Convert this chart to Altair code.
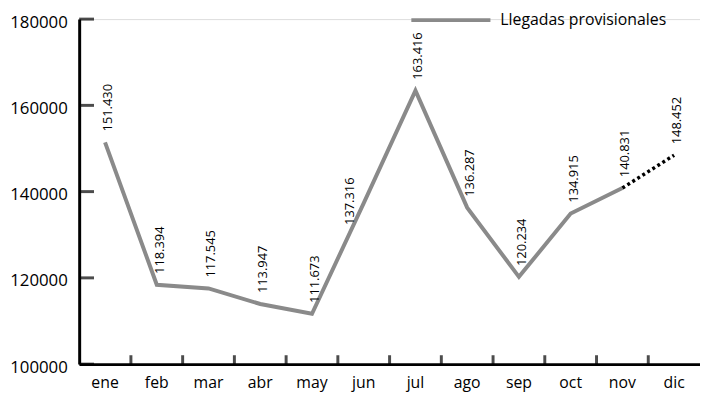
import altair as alt
import pandas as pd

meses = ["ene", "feb", "mar", "abr", "may", "jun", "jul", "ago", "sep", "oct", "nov", "dic"]
llegadas = [151430, 118394, 117545, 113947, 111673, 137316, 163416, 136287, 120234, 134915, 140831, 148452]
etiquetas = ["151.430", "118.394", "117.545", "113.947", "111.673", "137.316", "163.416",
             "136.287", "120.234", "134.915", "140.831", "148.452"]
y_ticks = [100000, 120000, 140000, 160000, 180000]
serie = "Llegadas provisionales"

df = pd.DataFrame({"mes": meses, "valor": llegadas, "etiqueta": etiquetas})
df["serie"] = serie
df_solid = df[df["mes"] != "dic"]
df_dot = df[df["mes"].isin(["nov", "dic"])]
df_ticks = pd.DataFrame({"v": y_ticks})

W, H = 628, 349
FONT = "Open Sans"

xscale = alt.Scale(domain=meses, paddingInner=0, paddingOuter=0)
yscale = alt.Scale(domain=[100000, 180000], nice=False)

x_enc = alt.X("mes:N", scale=xscale, sort=meses, title=None,
              axis=alt.Axis(labelAngle=0, ticks=False, grid=False, domainColor="black",
                            domainWidth=3, labelFontSize=16, labelFont=FONT,
                            labelColor="black", labelPadding=11))
y_enc = alt.Y("valor:Q", scale=yscale, title=None,
              axis=alt.Axis(values=y_ticks, ticks=False, grid=False, domainColor="black",
                            domainWidth=3, labelFontSize=17, labelFont=FONT,
                            labelColor="black", labelPadding=12, labelOffset=3, format="d"))

line = alt.Chart(df_solid).mark_line(strokeWidth=4, strokeJoin="miter").encode(
    x=x_enc, y=y_enc,
    color=alt.Color("serie:N", scale=alt.Scale(domain=[serie], range=["#8a8a8a"]),
                    legend=alt.Legend(title=None, orient="none", legendX=334, legendY=-41,
                                      symbolType="stroke", symbolSize=6400,
                                      symbolStrokeWidth=4, labelFontSize=16, labelLimit=0,
                                      labelFont=FONT, labelColor="black", labelOffset=8)),
)

dotted = alt.Chart(df_dot).mark_line(strokeWidth=3.5, strokeDash=[3, 3], color="black").encode(
    x=alt.X("mes:N", scale=xscale, sort=meses), y=alt.Y("valor:Q", scale=yscale)
)

labels = alt.Chart(df).transform_filter(alt.datum.mes != "jun").mark_text(
    angle=270, align="left", baseline="middle", dx=11, dy=3, fontSize=13, font=FONT, color="black"
).encode(x=alt.X("mes:N", scale=xscale, sort=meses), y=alt.Y("valor:Q", scale=yscale),
         text="etiqueta:N")

labels_jun = alt.Chart(df).transform_filter(alt.datum.mes == "jun").mark_text(
    angle=270, align="left", baseline="middle", dx=-22, dy=-14, fontSize=13, font=FONT, color="black"
).encode(x=alt.X("mes:N", scale=xscale, sort=meses), y=alt.Y("valor:Q", scale=yscale),
         text="etiqueta:N")

xticks = alt.Chart(df).transform_filter(alt.datum.mes != "ene").mark_tick(
    orient="vertical", size=9, thickness=3, color="black"
).encode(x=alt.X("mes:N", scale=xscale, sort=meses, bandPosition=0), y=alt.value(H - 4.5))

yticks = alt.Chart(df_ticks).mark_tick(
    orient="horizontal", size=15, thickness=3, color="black"
).encode(y=alt.Y("v:Q", scale=yscale), x=alt.value(7.5))

chart = alt.layer(line, dotted, labels, labels_jun, xticks, yticks).properties(
    width=W, height=H,
    autosize=alt.AutoSizeParams(type="none"),
    padding={"left": 72, "top": 9, "right": 0, "bottom": 30},
).configure_view(stroke=None).configure(background="white")

chart.save("out.html", embed_options={"renderer": "svg", "actions": False})
